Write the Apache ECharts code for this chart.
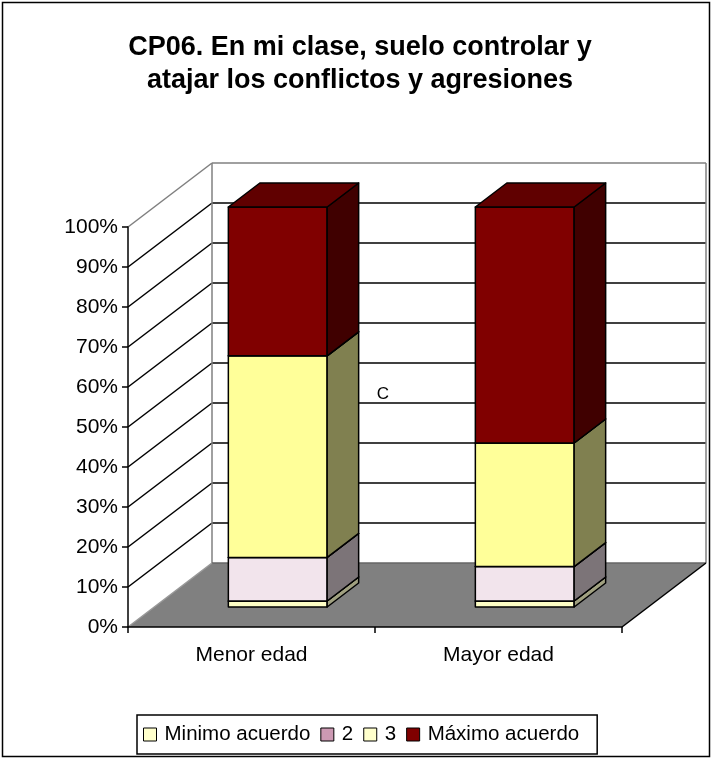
<!DOCTYPE html>
<html>
<head>
<meta charset="utf-8">
<script src="https://cdn.jsdelivr.net/npm/echarts@6/dist/echarts.min.js"></script>
<style>
html,body{margin:0;padding:0;background:#fff;}
#chart{width:713px;height:760px;}
</style>
</head>
<body>
<div id="chart"></div>
<script>
// ---- data ----
const categories = ['Menor edad', 'Mayor edad'];
const seriesNames = ['Minimo acuerdo', '2', '3', 'Máximo acuerdo'];
const minimoAcuerdo = [1.5, 1.5];
const dos = [10.9, 8.6];
const tres = [50.4, 30.9];
const maximoAcuerdo = [37.2, 59.0];
const yTicks = [0, 10, 20, 30, 40, 50, 60, 70, 80, 90, 100];
const titleText = 'CP06. En mi clase, suelo controlar y\natajar los conflictos y agresiones';
const strayLabel = 'C';

// ---- styles ----
const FONT = '"Liberation Sans", Arial, sans-serif';
const DX = 84, DY = -64;          // full depth offset of the 3D box
const FRONT = 0.3125, BACK = 0.6875; // bar depth position
const BAR_W = 0.4;               // fraction of band
const frontColors = ['#FFFFC6', '#F2E4EC', '#FFFF99', '#800000'];
const sideColors  = ['#A0A080', '#7C7478', '#808050', '#400000'];
const topColors   = ['#C8C8A0', '#B8AAB0', '#C0C070', '#600000'];
const legendColors = ['#FFFFCC', '#CC99B3', '#FFFFCC', '#800000'];

const valueArrays = [minimoAcuerdo, dos, tres, maximoAcuerdo];

// stacked data [categoryIndex, base, top]
const stacked = [];
const running = categories.map(() => 0);
valueArrays.forEach((arr) => {
  stacked.push(arr.map((v, i) => {
    const b = running[i];
    running[i] += v;
    return [i, b, running[i]];
  }));
});

function renderBar(k) {
  return function (params, api) {
    const ci = api.value(0), v0 = api.value(1), v1 = api.value(2);
    const p0 = api.coord([ci, v0]);
    const p1 = api.coord([ci, v1]);
    const bw = api.size([1, 0])[0] * BAR_W;
    const fx = DX * FRONT, fy = DY * FRONT;
    const ddx = DX * (BACK - FRONT), ddy = DY * (BACK - FRONT);
    const L = p0[0] - bw / 2 + fx, R = L + bw;
    const yb = p0[1] + fy, yt = p1[1] + fy;
    const st = { stroke: '#000', lineWidth: 1.5, lineJoin: 'round' };
    return {
      type: 'group',
      children: [
        { type: 'polygon', shape: { points: [[L, yb], [R, yb], [R, yt], [L, yt]] },
          style: Object.assign({ fill: frontColors[k] }, st) },
        { type: 'polygon', shape: { points: [[R, yb], [R + ddx, yb + ddy], [R + ddx, yt + ddy], [R, yt]] },
          style: Object.assign({ fill: sideColors[k] }, st) },
        { type: 'polygon', shape: { points: [[L, yt], [R, yt], [R + ddx, yt + ddy], [L + ddx, yt + ddy]] },
          style: Object.assign({ fill: topColors[k] }, st) }
      ]
    };
  };
}

function renderWalls(params, api) {
  const cs = params.coordSys;
  const x0 = cs.x, x1 = cs.x + cs.width;
  const yTop = api.coord([0, yTicks[yTicks.length - 1]])[1];
  const yBot = api.coord([0, yTicks[0]])[1];
  const gray = '#808080';
  const ch = [];
  ch.push({ type: 'polygon', shape: { points: [[x0, yBot], [x0 + DX, yBot + DY], [x0 + DX, yTop + DY], [x0, yTop]] },
    style: { fill: '#fff' } });
  ch.push({ type: 'polygon', shape: { points: [[x0 + DX, yBot + DY], [x1 + DX, yBot + DY], [x1 + DX, yTop + DY], [x0 + DX, yTop + DY]] },
    style: { fill: '#fff' } });
  ch.push({ type: 'polygon', shape: { points: [[x0, yBot], [x1, yBot], [x1 + DX, yBot + DY], [x0 + DX, yBot + DY]] },
    style: { fill: gray } });
  yTicks.slice(1, -1).forEach((v) => {
    const y = api.coord([0, v])[1];
    ch.push({ type: 'line', shape: { x1: x0 + DX, y1: y + DY, x2: x1 + DX, y2: y + DY }, style: { stroke: '#000', lineWidth: 1.5 } });
    ch.push({ type: 'line', shape: { x1: x0, y1: y, x2: x0 + DX, y2: y + DY }, style: { stroke: '#000', lineWidth: 1.5 } });
  });
  const edge = (a, b, c, d, col) => ch.push({ type: 'line', shape: { x1: a, y1: b, x2: c, y2: d }, style: { stroke: col, lineWidth: 1.5 } });
  edge(x0, yTop, x0 + DX, yTop + DY, gray);
  edge(x0 + DX, yTop + DY, x1 + DX, yTop + DY, gray);
  edge(x1 + DX, yTop + DY, x1 + DX, yBot + DY, gray);
  edge(x0 + DX, yTop + DY, x0 + DX, yBot + DY, gray);
  edge(x0 + DX, yBot + DY, x1 + DX, yBot + DY, '#666');
  edge(x0, yBot, x0 + DX, yBot + DY, '#999');
  edge(x1, yBot, x1 + DX, yBot + DY, '#000');
  return { type: 'group', children: ch };
}

const chart = echarts.init(document.getElementById('chart'), null, { renderer: 'canvas' });

const series = [{
  type: 'custom',
  name: '_walls',
  z: 1,
  silent: true,
  renderItem: renderWalls,
  data: [[0, 0, 0]]
}];
seriesNames.forEach((name, k) => {
  series.push({
    type: 'custom',
    name: name,
    z: 2,
    itemStyle: { color: legendColors[k] },
    renderItem: renderBar(k),
    encode: { x: 0, y: [1, 2] },
    data: stacked[k]
  });
});

chart.setOption({
  animation: false,
  backgroundColor: '#fff',
  title: {
    text: titleText,
    left: 360,
    textAlign: 'center',
    top: 31,
    padding: 0,
    textStyle: { fontFamily: FONT, fontSize: 27, fontWeight: 'bold', color: '#000', lineHeight: 33 }
  },
  legend: {
    data: seriesNames,
    left: 137,
    top: 715,
    orient: 'horizontal',
    icon: 'rect',
    itemWidth: 13,
    itemHeight: 13,
    itemGap: 10,
    padding: [9, 18, 9, 6],
    borderColor: '#000',
    borderWidth: 1.5,
    itemStyle: { borderColor: '#000', borderWidth: 1 },
    textStyle: { fontFamily: FONT, fontSize: 20.5, color: '#000', padding: [0, 0, 0, 3] }
  },
  grid: { left: 128, top: 227, width: 494, height: 400 },
  xAxis: {
    type: 'category',
    data: categories,
    z: 5,
    axisLine: { lineStyle: { color: '#000', width: 1.5 } },
    axisTick: { show: true, length: 6, lineStyle: { color: '#000', width: 1.5 } },
    axisLabel: { fontFamily: FONT, fontSize: 21, color: '#000', margin: 18 },
    splitLine: { show: false }
  },
  yAxis: {
    type: 'value',
    min: yTicks[0],
    max: yTicks[yTicks.length - 1],
    interval: yTicks[1] - yTicks[0],
    z: 5,
    axisLine: { show: true, lineStyle: { color: '#000', width: 1.5 } },
    axisTick: { show: true, length: 6, lineStyle: { color: '#000', width: 1.5 } },
    axisLabel: { fontFamily: FONT, fontSize: 21, color: '#000', margin: 10, formatter: '{value}%' },
    splitLine: { show: false }
  },
  graphic: [
    { type: 'rect', z: 100, silent: true, shape: { x: 2.5, y: 2.5, width: 707, height: 754 },
      style: { fill: 'none', stroke: '#000', lineWidth: 1.5 } },
    { type: 'text', z: 100, x: 383, y: 394,
      style: { text: strayLabel, font: '17px ' + FONT, fill: '#000', textAlign: 'center', textVerticalAlign: 'middle' } }
  ],
  series: series
});
</script>
</body>
</html>
